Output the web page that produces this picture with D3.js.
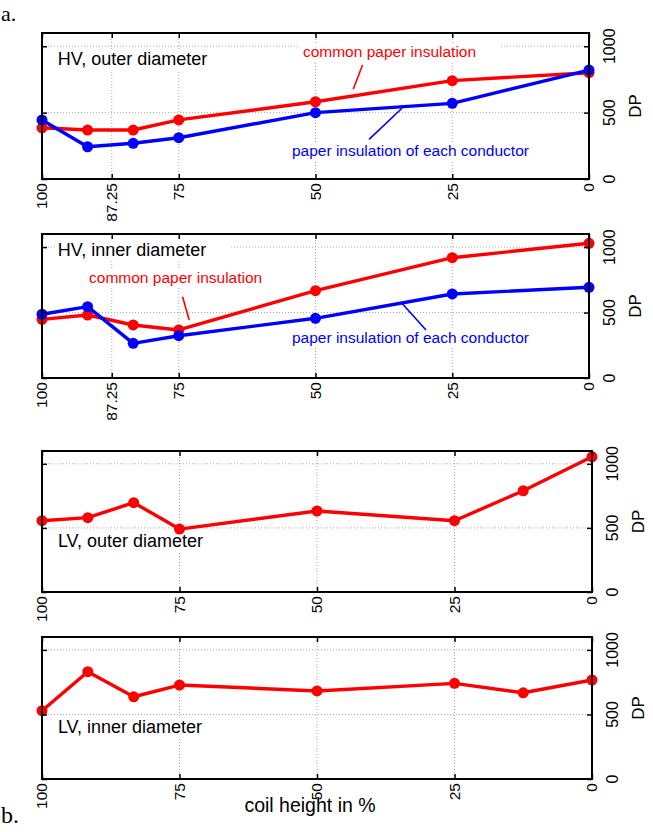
<!DOCTYPE html>
<html>
<head>
<meta charset="utf-8">
<script src="https://cdn.jsdelivr.net/npm/d3@7"></script>
<style>
  body { margin: 0; background: #fff; }
  svg { display: block; }
  text { font-family: "Liberation Sans", Arial, Helvetica, sans-serif; }
  text.part { font-family: "Liberation Serif", "Times New Roman", serif; }
</style>
</head>
<body>
<svg id="chart" width="653" height="832"></svg>
<script>
// Degree of polymerisation (DP) of winding paper along the coil height (%)
const hvPos = [100, 91.67, 83.33, 75, 50, 25, 0];
const lvPos = [100, 91.67, 83.33, 75, 50, 25, 12.5, 0];

const hvOuterCommon = [386, 369, 369, 445, 582, 741, 801];
const hvOuterEach   = [445, 243, 269, 311, 500, 570, 821];
const hvInnerCommon = [448, 481, 405, 367, 667, 919, 1029];
const hvInnerEach   = [487, 545, 265, 323, 456, 642, 693];
const lvOuter       = [556, 580, 697, 491, 632, 556, 790, 1055];
const lvInner       = [529, 831, 637, 728, 682, 741, 668, 767];

const hvTicks = [100, 87.25, 75, 50, 25, 0];
const lvTicks = [100, 75, 50, 25, 0];
const dpTicks = [0, 500, 1000];
const dpGrid  = [500, 1000];

const RED = "#ff0000", BLUE = "#0000ff";
const commonLabel = "common paper insulation";
const eachLabel = "paper insulation of each conductor";

const panels = [
  {
    title: "HV, outer diameter", titleAt: [97.1, 859],
    frame: { l: 42, r: 589, t: 33, b: 179 },
    pos: hvPos, ticks: hvTicks,
    series: [{ v: hvOuterCommon, c: RED }, { v: hvOuterEach, c: BLUE }],
    notes: [
      { text: commonLabel, c: RED, at: [52.3, 919], line: [[41.4, 859], [43.1, 676]] },
      { text: eachLabel, c: BLUE, at: [54.3, 173], line: [[40.2, 299], [34.2, 533]] }
    ]
  },
  {
    title: "HV, inner diameter", titleAt: [97.1, 934],
    frame: { l: 42, r: 589, t: 234, b: 378 },
    pos: hvPos, ticks: hvTicks,
    series: [{ v: hvInnerCommon, c: RED }, { v: hvInnerEach, c: BLUE }],
    notes: [
      { text: commonLabel, c: RED, at: [91.4, 723], line: [[74.3, 621], [73.1, 443]] },
      { text: eachLabel, c: BLUE, at: [54.3, 265], line: [[29.8, 367], [34.2, 571]] }
    ]
  },
  {
    title: "LV, outer diameter", titleAt: [97.1, 353],
    frame: { l: 42, r: 592, t: 451, b: 592 },
    pos: lvPos, ticks: lvTicks,
    series: [{ v: lvOuter, c: RED }],
    notes: []
  },
  {
    title: "LV, inner diameter", titleAt: [97.1, 354],
    frame: { l: 42, r: 592, t: 637, b: 779 },
    pos: lvPos, ticks: lvTicks,
    series: [{ v: lvInner, c: RED }],
    notes: []
  }
];

const svg = d3.select("#chart");

// text with a white box behind it (hides the grid underneath)
function boxedText(g, x, y, str, size, color) {
  const t = g.append("text")
    .attr("x", x).attr("y", y)
    .attr("font-size", size)
    .attr("fill", color)
    .text(str);
  const bb = t.node().getBBox();
  g.insert("rect", () => t.node())
    .attr("x", bb.x - 3).attr("y", bb.y)
    .attr("width", bb.width + 28).attr("height", bb.height + 1)
    .attr("fill", "#fff");
  return t;
}

panels.forEach(p => {
  const f = p.frame;
  const x = d3.scaleLinear().domain([100, 0]).range([f.l, f.r]);
  const y = d3.scaleLinear().domain([0, 1100]).range([f.b, f.t]);
  const g = svg.append("g");

  // dotted grid
  const grid = g.append("g")
    .attr("stroke", "#a8a8a8").attr("stroke-width", 1)
    .attr("stroke-dasharray", "1,2");
  grid.selectAll("line.v").data(p.ticks).join("line")
    .attr("x1", d => x(d)).attr("x2", d => x(d))
    .attr("y1", f.t).attr("y2", f.b);
  grid.selectAll("line.h").data(dpGrid).join("line")
    .attr("x1", f.l).attr("x2", f.r)
    .attr("y1", d => y(d)).attr("y2", d => y(d));

  // titles and annotations
  const notes = g.append("g");
  boxedText(notes, x(p.titleAt[0]), y(p.titleAt[1]), p.title, 18, "#000");
  p.notes.forEach(n => {
    boxedText(notes, x(n.at[0]), y(n.at[1]), n.text, 15.5, n.c);
  });
  p.notes.forEach(n => {
    notes.append("line")
      .attr("x1", x(n.line[0][0])).attr("y1", y(n.line[0][1]))
      .attr("x2", x(n.line[1][0])).attr("y2", y(n.line[1][1]))
      .attr("stroke", n.c).attr("stroke-width", 1.6);
  });

  // series lines and markers
  const line = d3.line().x(d => x(d[0])).y(d => y(d[1]));
  p.series.forEach(s => {
    const pts = d3.zip(p.pos, s.v);
    g.append("path").datum(pts)
      .attr("d", line)
      .attr("fill", "none").attr("stroke", s.c)
      .attr("stroke-width", 3.4).attr("stroke-linejoin", "round");
    g.append("g").selectAll("circle").data(pts).join("circle")
      .attr("cx", d => x(d[0])).attr("cy", d => y(d[1]))
      .attr("r", 5.5).attr("fill", s.c);
  });

  // inward tick marks on all four sides
  const axes = [
    d3.axisTop(x).tickValues(p.ticks).tickSize(-5).tickFormat(""),
    d3.axisBottom(x).tickValues(p.ticks).tickSize(-5).tickFormat(""),
    d3.axisLeft(y).tickValues(dpTicks).tickSize(-5).tickFormat(""),
    d3.axisRight(y).tickValues(dpTicks).tickSize(-5).tickFormat("")
  ];
  const shifts = [[0, f.t], [0, f.b], [f.l, 0], [f.r, 0]];
  axes.forEach((a, i) => {
    const ag = g.append("g")
      .attr("transform", `translate(${shifts[i][0]},${shifts[i][1]})`)
      .call(a);
    ag.select(".domain").remove();
    ag.selectAll(".tick line").attr("stroke", "#000").attr("stroke-width", 1.5);
  });

  // frame
  g.append("rect")
    .attr("x", f.l).attr("y", f.t)
    .attr("width", f.r - f.l).attr("height", f.b - f.t)
    .attr("fill", "none").attr("stroke", "#000").attr("stroke-width", 2);

  // rotated x tick labels below the frame
  g.append("g").selectAll("text").data(p.ticks).join("text")
    .attr("transform", d => `translate(${x(d)},${f.b + 4}) rotate(-90)`)
    .attr("text-anchor", "end").attr("dy", "0.35em")
    .attr("font-size", 15.5).attr("fill", "#000")
    .text(d => String(d));

  // rotated DP labels on the right
  g.append("g").selectAll("text").data(dpTicks).join("text")
    .attr("transform", d => `translate(${f.r + 26},${y(d)}) rotate(-90)`)
    .attr("text-anchor", "middle")
    .attr("font-size", 16).attr("fill", "#000")
    .text(d => String(d));
  g.append("text")
    .attr("transform", `translate(${f.r + 52},${(f.t + f.b) / 2}) rotate(-90)`)
    .attr("text-anchor", "middle")
    .attr("font-size", 17).attr("fill", "#000")
    .text("DP");
});

// shared x-axis title and part letters
svg.append("text")
  .attr("x", 310).attr("y", 812)
  .attr("text-anchor", "middle")
  .attr("font-size", 19.5).attr("fill", "#000")
  .text("coil height in %");

svg.append("text").attr("class", "part")
  .attr("x", 1).attr("y", 21)
  .attr("font-size", 22).attr("fill", "#000")
  .text("a.");
svg.append("text").attr("class", "part")
  .attr("x", 1).attr("y", 823)
  .attr("font-size", 24).attr("fill", "#000")
  .text("b.");
</script>
</body>
</html>
